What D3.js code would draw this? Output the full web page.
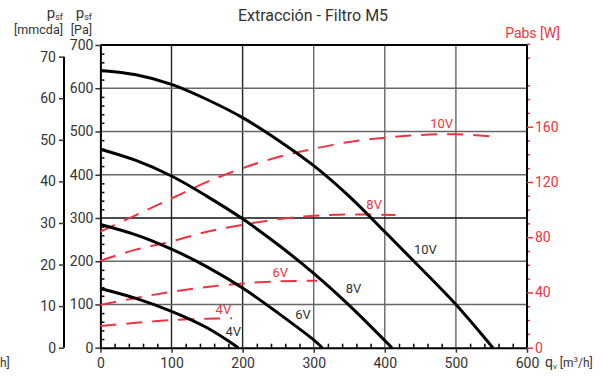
<!DOCTYPE html>
<html>
<head>
<meta charset="utf-8">
<script src="https://cdn.jsdelivr.net/npm/d3@7"></script>
<style>
  body { margin: 0; background: #fff; }
  text { font-family: Roboto, "Noto Sans", sans-serif; }
</style>
</head>
<body>
<figure id="chart" style="margin:0"></figure>
<script>
// ---- data ----
// pressure curves, [q m3/h, psf Pa]
const psf10V = [[0,641],[50,631],[100,609],[150,574],[200,532],[250,480],[300,421],[350,350],[400,268],[450,185],[500,100],[552,0]];
const psf8V  = [[0,459],[50,433],[100,397],[150,350],[200,298],[250,238],[300,172],[350,98],[410,0]];
const psf6V  = [[0,285],[50,261],[100,228],[150,187],[200,138],[250,80],[300,18],[312,0]];
const psf4V  = [[0,137],[50,114],[100,84],[150,46],[194,0]];
// absorbed power curves, [q m3/h, Pabs W]
const pabs10V = [[0,84],[50,96],[100,108],[150,120],[200,130],[250,138],[300,144],[350,149],[400,152],[450,154],[500,154.5],[550,153]];
const pabs8V  = [[0,63],[50,71],[100,77],[150,84],[200,89],[250,93],[300,95.5],[350,96.5],[415,96]];
const pabs6V  = [[0,31],[50,36],[100,40.5],[150,44],[200,46.5],[250,48],[305,48.5]];
const pabs4V  = [[0,15.7],[50,18],[100,20],[150,21],[185,21.3]];
const voltages = ["10V", "8V", "6V", "4V"];
// label anchors [q, value]
const psfLabels  = [[457,228],[356,137],[285,79],[187,39]];
const pabsLabels = [[480,163],[385,104],[253,55],[173,28]];
// ticks
const qTicks = [0,100,200,300,400,500,600];
const paTicks = [0,100,200,300,400,500,600,700];
const mmTicks = [0,10,20,30,40,50,60,70];
const wTicks = [0,40,80,120,160];

const W = 602, H = 376;
const svg = d3.select("#chart").append("svg").attr("width", W).attr("height", H);

// scales
const x = d3.scaleLinear().domain([0, 600]).range([100.4, 527]);
const y = d3.scaleLinear().domain([0, 700]).range([347.7, 45]);
const yMm = d3.scaleLinear().domain([0, 72.8]).range([347.7, 45]);
const yW = d3.scaleLinear().domain([0, 160]).range([347.7, 126.7]);

const red = "#ee3340", ink = "#333";

// grid
svg.append("g").selectAll("line").data(qTicks.slice(1, 6)).enter().append("line")
  .attr("x1", d => x(d)).attr("x2", d => x(d)).attr("y1", y(0)).attr("y2", y(700))
  .attr("stroke", d => d <= 200 ? "#222" : "#666").attr("stroke-width", 1.4);
svg.append("g").selectAll("line").data(paTicks.slice(1, 7)).enter().append("line")
  .attr("x1", x(0)).attr("x2", x(600)).attr("y1", d => y(d)).attr("y2", d => y(d))
  .attr("stroke", d => d === 300 ? "#111" : "#666").attr("stroke-width", 1.4);
// top border
svg.append("line").attr("x1", x(0)).attr("x2", x(600)).attr("y1", y(700)).attr("y2", y(700))
  .attr("stroke", "#000").attr("stroke-width", 2);

function styleAxis(g, color) {
  g.selectAll("path.domain").attr("stroke", "#000").attr("stroke-width", 2);
  g.selectAll("line").attr("stroke", color).attr("stroke-width", 1.5);
  g.selectAll("text").attr("fill", color).style("font-size", "14px");
}

// minor ticks
const minorQ = d3.range(0, 601, 20).filter(d => d % 100 !== 0);
svg.append("g").attr("transform", "translate(0," + y(0) + ")")
  .call(d3.axisTop(x).tickValues(minorQ).tickSize(4).tickFormat(""))
  .call(g => { g.select(".domain").remove(); g.selectAll("line").attr("stroke", "#000").attr("stroke-width", 1.5); });
const minorPa = d3.range(0, 701, 20).filter(d => d % 100 !== 0);
svg.append("g").attr("transform", "translate(" + x(0) + ",0)")
  .call(d3.axisRight(y).tickValues(minorPa).tickSize(4).tickFormat(""))
  .call(g => { g.select(".domain").remove(); g.selectAll("line").attr("stroke", "#000").attr("stroke-width", 1.5); });
const minorW = d3.range(0, 221, 10).filter(d => d % 40 !== 0);
svg.append("g").attr("transform", "translate(" + x(600) + ",0)")
  .call(d3.axisRight(yW).tickValues(minorW).tickSize(3).tickFormat(""))
  .call(g => { g.select(".domain").remove(); g.selectAll("line").attr("stroke", red).attr("stroke-width", 1.5); });

// main axes
svg.append("g").attr("transform", "translate(0," + y(0) + ")")
  .call(d3.axisBottom(x).tickValues(qTicks).tickSize(5).tickSizeOuter(0).tickPadding(5))
  .call(g => styleAxis(g, ink));
svg.append("g").attr("transform", "translate(" + x(0) + ",0)")
  .call(d3.axisLeft(y).tickValues(paTicks).tickSize(5).tickSizeOuter(0).tickPadding(2))
  .call(g => styleAxis(g, ink));
svg.append("g").attr("transform", "translate(64,0)")
  .call(d3.axisLeft(yMm).tickValues(mmTicks).tickSize(5).tickSizeOuter(0).tickPadding(3))
  .call(g => { styleAxis(g, ink); g.select(".domain").attr("d", "M0," + y(0) + "V" + yMm(70)); });
svg.append("g").attr("transform", "translate(" + x(600) + ",0)")
  .call(d3.axisRight(yW).tickValues(wTicks).tickSize(6).tickSizeOuter(0).tickPadding(2))
  .call(g => { styleAxis(g, red); g.select(".domain").attr("d", "M0," + y(0) + "V" + y(700)); });

// curves
const line = d3.line().x(d => x(d[0])).y(d => y(d[1])).curve(d3.curveCatmullRom);
const lineW = d3.line().x(d => x(d[0])).y(d => yW(d[1])).curve(d3.curveCatmullRom);

svg.append("g").selectAll("path").data([pabs10V, pabs8V, pabs6V, pabs4V]).enter().append("path")
  .attr("d", lineW).attr("fill", "none").attr("stroke", red).attr("stroke-width", 2)
  .attr("stroke-dasharray", "16,10");
svg.append("g").selectAll("path").data([psf10V, psf8V, psf6V, psf4V]).enter().append("path")
  .attr("d", line).attr("fill", "none").attr("stroke", "#000").attr("stroke-width", 3);

// curve labels
svg.append("g").selectAll("text").data(psfLabels).enter().append("text")
  .attr("x", d => x(d[0])).attr("y", d => y(d[1]) + 5).attr("text-anchor", "middle")
  .attr("fill", ink).style("font-size", "13px").text((d, i) => voltages[i]);
svg.append("g").selectAll("text").data(pabsLabels).enter().append("text")
  .attr("x", d => x(d[0])).attr("y", d => yW(d[1]) + 5).attr("text-anchor", "middle")
  .attr("fill", red).style("font-size", "13px").text((d, i) => voltages[i]);

// title and axis titles
svg.append("text").attr("x", 313).attr("y", 21).attr("text-anchor", "middle")
  .attr("fill", ink).style("font-size", "16px").text("Extracción - Filtro M5");

function pLabel(xe) {
  const t = svg.append("text").attr("x", xe).attr("y", 18).attr("text-anchor", "end")
    .attr("fill", ink).style("font-size", "15px");
  t.append("tspan").text("p");
  t.append("tspan").attr("dy", 2).style("font-size", "9px").text("sf");
}
pLabel(63); pLabel(92);
svg.append("text").attr("x", 63).attr("y", 34).attr("text-anchor", "end")
  .attr("fill", ink).style("font-size", "12.5px").text("[mmcda]");
svg.append("text").attr("x", 92).attr("y", 34).attr("text-anchor", "end")
  .attr("fill", ink).style("font-size", "12.5px").text("[Pa]");

svg.append("text").attr("x", 560).attr("y", 38).attr("text-anchor", "end")
  .attr("fill", red).style("font-size", "14px").text("Pabs [W]");

const qt = svg.append("text").attr("x", 545).attr("y", 367)
  .attr("fill", ink).style("font-size", "12px");
qt.append("tspan").style("font-size", "14px").text("q");
qt.append("tspan").attr("dy", 2).style("font-size", "8px").text("v");
qt.append("tspan").attr("dy", -2).text(" [m");
qt.append("tspan").attr("dy", -5).style("font-size", "8px").text("3");
qt.append("tspan").attr("dy", 5).text("/h]");
// the clipped end of a second unit label at the far left edge
svg.append("text").attr("x", 0).attr("y", 367)
  .attr("fill", ink).style("font-size", "12px").text("h]");
</script>
</body>
</html>
